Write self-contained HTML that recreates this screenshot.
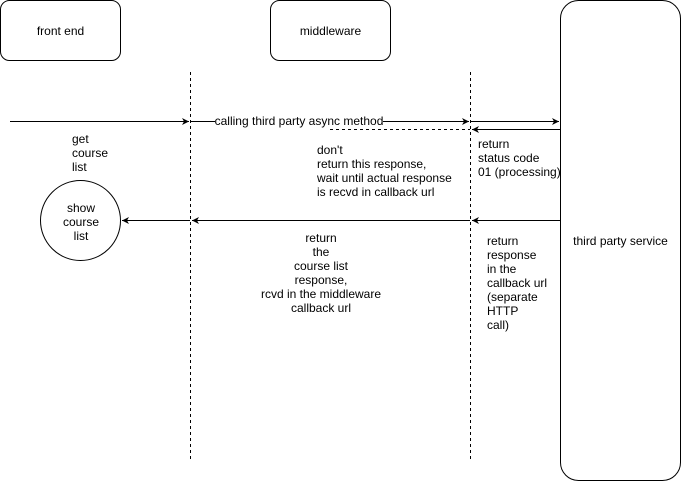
<!DOCTYPE html>
<html><head><meta charset="utf-8"><style>
html,body{margin:0;padding:0;background:#fff;}
svg{display:block;}
text{font-family:"Liberation Sans",Arial,sans-serif;font-size:12px;fill:#000;}
</style></head><body>
<svg width="681" height="481" viewBox="0 0 681 481" xmlns="http://www.w3.org/2000/svg">
<defs>
<marker id="a" markerWidth="8" markerHeight="8" refX="7" refY="4" orient="auto" markerUnits="userSpaceOnUse">
<path d="M0,0.5 L7,4 L0,7.5 L2,4 Z" fill="#000"/>
</marker>
</defs>
<g fill="none" stroke="#000" stroke-width="1">
<rect x="0.5" y="0.5" width="120" height="60" rx="9"/>
<rect x="270.5" y="0.5" width="120" height="60" rx="9"/>
<rect x="560.5" y="0.5" width="120" height="480" rx="18"/>
<circle cx="80.5" cy="220.5" r="40"/>
<line x1="190.5" y1="72" x2="190.5" y2="462" stroke-dasharray="3,3"/>
<line x1="470.5" y1="72" x2="470.5" y2="462" stroke-dasharray="3,3"/>
<line x1="10" y1="121.5" x2="189" y2="121.5" marker-end="url(#a)"/>
<line x1="191" y1="121.5" x2="215" y2="121.5"/>
<line x1="383" y1="121.5" x2="469" y2="121.5" marker-end="url(#a)"/>
<line x1="471" y1="121.5" x2="559" y2="121.5" marker-end="url(#a)"/>
<line x1="560" y1="129.5" x2="472" y2="129.5" marker-end="url(#a)"/>
<line x1="330" y1="129.5" x2="470" y2="129.5" stroke-dasharray="3,3"/>
<line x1="560" y1="220.5" x2="472" y2="220.5" marker-end="url(#a)"/>
<line x1="470" y1="220.5" x2="192" y2="220.5" marker-end="url(#a)"/>
<line x1="190" y1="220.5" x2="122" y2="220.5" marker-end="url(#a)"/>
</g>
<text x="60.5" y="35" text-anchor="middle">front end</text>
<text x="330.5" y="35" text-anchor="middle">middleware</text>
<text x="620.5" y="245" text-anchor="middle">third party service</text>
<text x="299" y="125" text-anchor="middle">calling third party async method</text>
<text x="72" y="143">get</text><text x="72" y="157">course</text><text x="72" y="171">list</text>
<text x="81" y="212" text-anchor="middle">show</text><text x="81" y="226" text-anchor="middle">course</text><text x="81" y="240" text-anchor="middle">list</text>
<text x="317" y="154">don't</text><text x="317" y="168">return this response,</text><text x="317" y="182">wait until actual response</text><text x="317" y="196">is recvd in callback url</text>
<text x="478" y="148">return</text><text x="478" y="162">status code</text><text x="478" y="176">01 (processing)</text>
<text x="321" y="242" text-anchor="middle">return</text><text x="321" y="256" text-anchor="middle">the</text><text x="321" y="270" text-anchor="middle">course list</text><text x="321" y="284" text-anchor="middle">response,</text><text x="321" y="298" text-anchor="middle">rcvd in the middleware</text><text x="321" y="312" text-anchor="middle">callback url</text>
<text x="487" y="245">return</text><text x="487" y="259">response</text><text x="487" y="273">in the</text><text x="487" y="287">callback url</text><text x="487" y="301">(separate</text><text x="487" y="315">HTTP</text><text x="487" y="329">call)</text>
</svg>
</body></html>
